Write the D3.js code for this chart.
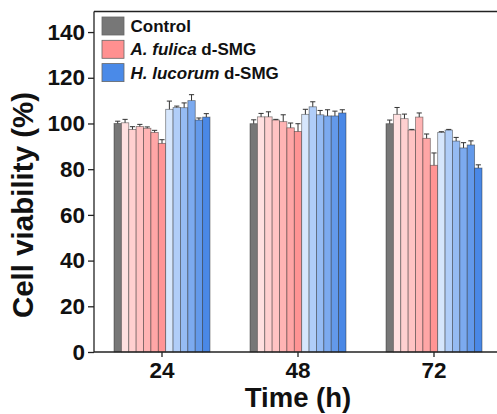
<!DOCTYPE html>
<html>
<head>
<meta charset="utf-8">
<script src="https://cdn.jsdelivr.net/npm/d3@7"></script>
<style>
  body { margin: 0; background: #fff; }
  svg { display: block; font-family: 'Liberation Sans', Arial, sans-serif; }
</style>
</head>
<body>
<div id="chart"></div>
<script>
// time points (h)
const times = ['24', '48', '72']

// 13 bars per time point: control, 6 x A. fulica, 6 x H. lucorum
const control = [100.0, 99.9, 99.9]
const controlErr = [1.0, 1.7, 1.6]

const fulica = [
  [100.3, 97.4, 98.7, 97.9, 96.1, 91.3],
  [102.9, 102.9, 101.5, 100.8, 98.1, 96.5],
  [104.0, 102.1, 97.1, 102.8, 93.5, 81.7]
]
const fulicaErr = [
  [1.5, 1.2, 0.9, 0.6, 0.9, 1.6],
  [1.5, 2.2, 0.3, 3.0, 2.1, 3.4],
  [3.0, 2.0, 0.3, 1.8, 1.9, 5.4]
]

const lucorum = [
  [106.2, 107.0, 106.9, 110.0, 101.5, 102.8],
  [104.0, 107.3, 103.8, 103.3, 103.3, 104.6],
  [96.1, 97.1, 92.3, 89.3, 90.6, 80.5]
]
const lucorumErr = [
  [3.6, 0.6, 2.1, 2.6, 0.9, 1.5],
  [2.2, 2.2, 1.9, 2.7, 2.1, 1.4],
  [0.3, 0.3, 1.6, 2.3, 1.8, 1.4]
]

const yTicks = [0, 20, 40, 60, 80, 100, 120, 140]

const controlColor = '#777777'
const fulicaColors = ['#ffe0e0', '#ffd0d0', '#ffc3c3', '#ffb4b4', '#ffa6a6', '#ff9494']
const lucorumColors = ['#d6e6fc', '#b0cdf8', '#95bbf3', '#7caaef', '#6399ea', '#4a88e6']

const legendItems = [
  { color: '#777777', italic: '', rest: 'Control' },
  { color: '#ff9090', italic: 'A. fulica', rest: ' d-SMG' },
  { color: '#4a8ae8', italic: 'H. lucorum', rest: ' d-SMG' }
]

const width = 497
const height = 414
const left = 94
const bottom = 352

// flatten into rows
const rows = []
times.forEach((t, i) => {
  rows.push({ time: t, idx: 0, value: control[i], err: controlErr[i], color: controlColor })
  fulica[i].forEach((v, j) => rows.push({ time: t, idx: 1 + j, value: v, err: fulicaErr[i][j], color: fulicaColors[j] }))
  lucorum[i].forEach((v, j) => rows.push({ time: t, idx: 7 + j, value: v, err: lucorumErr[i][j], color: lucorumColors[j] }))
})

const svg = d3.select('#chart')
  .append('svg')
    .attr('width', width)
    .attr('height', height)

const x = d3.scaleBand()
  .domain(times)
  .range([left, left + 3 * 136])

const inner = d3.scaleBand()
  .domain(d3.range(13))
  .range([20, 116])

const y = d3.scaleLinear()
  .domain([0, 149])
  .range([bottom, 11.5])

// bars
svg.append('g')
  .selectAll('rect')
  .data(rows)
  .enter().append('rect')
    .attr('x', d => x(d.time) + inner(d.idx))
    .attr('y', d => y(d.value))
    .attr('width', inner.bandwidth())
    .attr('height', d => y(0) - y(d.value))
    .attr('fill', d => d.color)
    .attr('stroke', 'rgba(40,40,40,0.55)')
    .attr('stroke-width', 0.8)

// error bars (upper only)
const capW = inner.bandwidth() * 0.7
const err = svg.append('g')
  .attr('stroke', '#333')
  .attr('stroke-width', 1)
err.selectAll('line.v')
  .data(rows)
  .enter().append('line')
    .attr('class', 'v')
    .attr('x1', d => x(d.time) + inner(d.idx) + inner.bandwidth() / 2)
    .attr('x2', d => x(d.time) + inner(d.idx) + inner.bandwidth() / 2)
    .attr('y1', d => y(d.value))
    .attr('y2', d => y(d.value + d.err))
err.selectAll('line.c')
  .data(rows)
  .enter().append('line')
    .attr('class', 'c')
    .attr('x1', d => x(d.time) + inner(d.idx) + inner.bandwidth() / 2 - capW / 2)
    .attr('x2', d => x(d.time) + inner(d.idx) + inner.bandwidth() / 2 + capW / 2)
    .attr('y1', d => y(d.value + d.err))
    .attr('y2', d => y(d.value + d.err))

// top frame line
svg.append('line')
  .attr('x1', left).attr('x2', width)
  .attr('y1', y(149)).attr('y2', y(149))
  .attr('stroke', '#222')
  .attr('stroke-width', 1.3)

// axes
const yAxis = svg.append('g')
  .attr('transform', `translate(${left},0)`)
  .call(d3.axisLeft(y).tickValues(yTicks).tickSize(6).tickPadding(3))
yAxis.select('.domain').attr('d', `M0,${y(149)}V${bottom}`)

const xAxis = svg.append('g')
  .attr('transform', `translate(0,${bottom})`)
  .call(d3.axisBottom(x).tickSize(5).tickPadding(5))
xAxis.select('.domain').attr('d', `M${left},0H${width}`)

svg.selectAll('.domain, .tick line')
  .attr('stroke', '#222')
  .attr('stroke-width', 1.3)

yAxis.selectAll('.tick text')
  .attr('font-size', 22.5)
  .attr('font-weight', 'bold')
  .attr('fill', '#111')
  .attr('font-family', "'Liberation Sans', Arial, sans-serif")

xAxis.selectAll('.tick text')
  .attr('font-size', 22.5)
  .attr('font-weight', 'bold')
  .attr('fill', '#111')
  .attr('font-family', "'Liberation Sans', Arial, sans-serif")

// axis titles
svg.append('text')
  .attr('transform', `translate(33,205) rotate(-90)`)
  .attr('text-anchor', 'middle')
  .attr('font-size', 29.5)
  .attr('font-weight', 'bold')
  .attr('fill', '#111')
  .text('Cell viability (%)')

svg.append('text')
  .attr('x', 298)
  .attr('y', 407)
  .attr('text-anchor', 'middle')
  .attr('font-size', 27.5)
  .attr('font-weight', 'bold')
  .attr('fill', '#111')
  .text('Time (h)')

// legend
const legend = svg.append('g')
  .attr('transform', 'translate(102,17)')
const li = legend.selectAll('g')
  .data(legendItems)
  .enter().append('g')
    .attr('transform', (d, i) => `translate(0,${i * 23.3})`)
li.append('rect')
  .attr('width', 22)
  .attr('height', 18)
  .attr('fill', d => d.color)
  .attr('stroke', '#666')
  .attr('stroke-width', 0.8)
const lt = li.append('text')
  .attr('x', 28.5)
  .attr('y', 15)
  .attr('font-size', 17)
  .attr('font-weight', 'bold')
  .attr('fill', '#111')
lt.append('tspan')
  .attr('font-style', 'italic')
  .text(d => d.italic)
lt.append('tspan')
  .text(d => d.rest)
</script>
</body>
</html>
